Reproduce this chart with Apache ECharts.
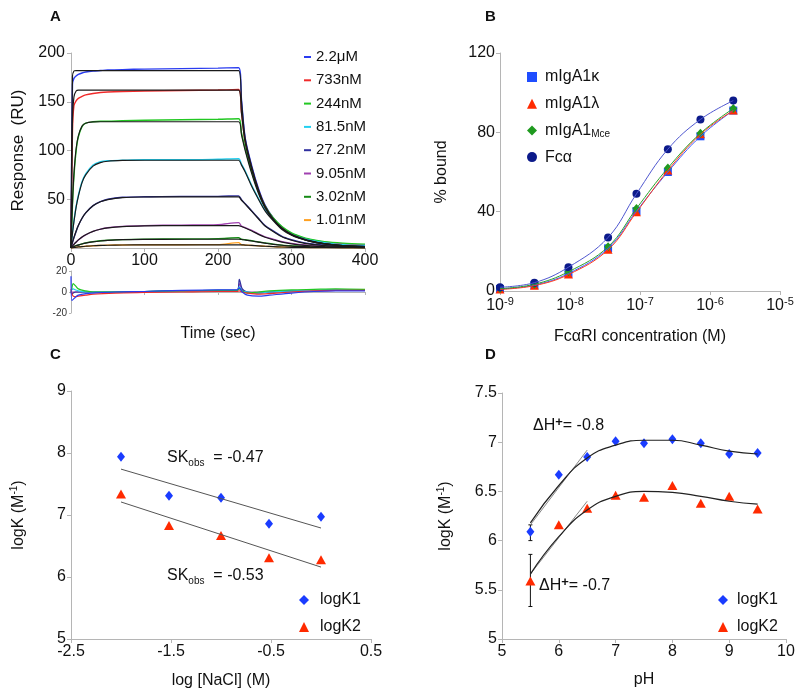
<!DOCTYPE html>
<html>
<head>
<meta charset="utf-8">
<script src="https://cdn.jsdelivr.net/npm/echarts@6/dist/echarts.min.js"></script>
<style>
  html, body { margin: 0; padding: 0; background: #fff; }
  #chart { width: 800px; height: 697px; }
</style>
</head>
<body>
<div id="chart"></div>
<script>
// ---- panel A: sensorgrams (time in s, response in RU) ----
const timeA = [0, 2, 4, 7, 10, 15, 20, 30, 40, 50, 70, 100, 150, 200, 228, 232, 237, 246, 255, 264, 275, 287, 300, 310, 325, 345, 370, 400]
const concNames = ['2.2μM', '733nM', '244nM', '81.5nM', '27.2nM', '9.05nM', '3.02nM', '1.01nM']
const concColors = ['#2a3cf0', '#f02a2a', '#22c822', '#22d0f0', '#3030a0', '#a040b0', '#168a16', '#ffa020']
const data2200 = [0, 168, 174, 176.5, 178, 179.5, 180.5, 181.5, 182, 182.5, 183, 183.5, 184, 184.5, 185, 152, 113, 84, 61, 44, 31, 21.5, 15, 12, 8.5, 6, 4, 3]
const data733 = [0, 120, 146, 151, 153.5, 155.5, 157, 158.5, 159.5, 160, 160.5, 161, 161.5, 162, 162.5, 139, 109, 81, 59, 43, 30.5, 21, 14.5, 11.5, 8, 5.5, 4, 3]
const data244 = [0, 44, 74, 100, 114, 124.5, 128, 129.5, 130, 130, 130.5, 131, 131.5, 132, 132.5, 118, 102, 78, 58, 43, 31, 22, 15.5, 12.5, 9, 6.5, 5, 4]
const data81 = [0, 16, 28, 43, 54, 68, 76, 85, 88.5, 89.5, 90, 90.5, 90.5, 91, 91.5, 86, 79, 64, 51, 39, 29, 20, 14, 11, 8, 5.5, 3.5, 2.5]
const data27 = [0, 5.5, 10.5, 17, 23, 30.5, 36, 43.5, 47.5, 50, 52, 52.5, 53, 53, 53.5, 49.5, 45.5, 38, 30.5, 23, 17.5, 12, 8.5, 6.5, 4.5, 3, 2, 1.5]
const data9 = [0, 2, 3.8, 6, 8.2, 11.2, 13.5, 17, 19.3, 20.8, 22.2, 23, 23.5, 24, 26, 22.5, 21, 18, 14.5, 11.5, 9, 6.5, 4.7, 3.7, 2.7, 2, 1.4, 1]
const data3 = [0, 0.8, 1.5, 2.4, 3.1, 4.2, 5.2, 6.5, 7.4, 8, 8.6, 9, 9.3, 9.6, 10.5, 9, 8.4, 7.4, 6.2, 5.2, 4, 3, 2.3, 1.9, 1.4, 1, 0.7, 0.5]
const data1 = [0, 0.2, 0.5, 0.8, 1.1, 1.5, 1.8, 2.3, 2.6, 2.9, 3.1, 3.3, 3.4, 3.5, 5.5, 3.3, 3, 2.6, 2.2, 1.8, 1.4, 1, 0.8, 0.6, 0.5, 0.4, 0.3, 0.3]
const fit2200 = [0, 176, 181.5, 182, 182, 182, 182, 182, 182, 182, 182, 182, 182, 182, 182, 150, 112, 83, 60, 43, 30, 20.5, 14, 11, 7.5, 4.5, 2.5, 1.5]
const fit733 = [0, 130, 155, 161, 162, 162, 162, 162, 162, 162, 162, 162, 162, 162, 162, 138, 108, 80, 58, 42, 29.5, 20, 13.5, 10.5, 7, 4.3, 2.4, 1.4]
const fit244 = [0, 46, 76, 102, 115, 125, 128, 129.3, 129.5, 129.5, 129.5, 129.5, 129.5, 129.5, 129.5, 116, 100, 76, 56, 41, 29, 20, 13.5, 10.5, 7, 4.3, 2.4, 1.4]
const fit81 = [0, 15, 27, 42, 53, 67, 75, 84, 87.5, 89, 89.8, 90, 90, 90, 90, 85, 78, 63, 50, 38, 28, 19, 13, 10, 6.8, 4.2, 2.3, 1.3]
const fit27 = [0, 5.7, 10.9, 17.5, 23.1, 30.5, 36, 43.3, 47.4, 49.6, 51.6, 52.3, 52.5, 52.5, 52.5, 49, 45, 37.5, 30, 22.5, 17, 11.5, 8, 6, 4, 2.5, 1.4, 0.8]
const fit9 = [0, 2, 3.8, 6.2, 8.3, 11.3, 13.6, 17, 19.2, 20.6, 22, 22.7, 23, 23, 23, 22, 20.5, 17.5, 14, 11, 8.5, 6, 4.2, 3.2, 2.2, 1.4, 0.8, 0.4]
const fit3 = [0, 0.7, 1.4, 2.3, 3, 4.1, 5, 6.3, 7.2, 7.8, 8.5, 8.8, 9, 9, 9, 8.7, 8.2, 7.2, 6, 5, 3.8, 2.8, 2, 1.6, 1.1, 0.7, 0.4, 0.2]
const fit1 = [0, 0.2, 0.5, 0.8, 1.1, 1.5, 1.8, 2.3, 2.6, 2.8, 3.1, 3.2, 3.3, 3.3, 3.3, 3.2, 3, 2.6, 2.2, 1.8, 1.4, 1, 0.7, 0.6, 0.4, 0.25, 0.15, 0.1]
const dataA = [data2200, data733, data244, data81, data27, data9, data3, data1]
const fitA = [fit2200, fit733, fit244, fit81, fit27, fit9, fit3, fit1]

// residuals
const timeRes = [0, 1, 3, 6, 10, 20, 30, 60, 100, 150, 200, 226, 229, 233, 240, 255, 270, 300, 330, 360, 400]
const res2200 = [15, -8, -7, -5, -3, -1.5, -1, 0, 0.5, 1.5, 2, 2, 4, 0, -3, -4, -3, -1, 0.5, 1, 1]
const res733 = [3, -1, -4, -4.5, -4, -3, -2, -1, -0.5, 0, 0.5, 0.5, 1, 0, -1, -2, -1.5, 0, 1, 1.5, 1.5]
const res244 = [0, 3, 8, 6, 3, 1, 0, 0, 0.5, 1, 1.5, 1.5, 3, 1, -1, 0, 1, 2, 2.5, 3, 2.5]
const res81 = [0, 2, 3, 2, 1, 0, 0, 0, 0.5, 1, 1.5, 1.5, 5, 1, 0, -1, 0, 1, 1.5, 2, 2]
const res27 = [0, -2, -1, 0, 0, 0, 0, 0, 0.5, 1, 1.5, 1.5, 12, 3, 0, -1, 0, 1, 1.5, 2, 2]
const res9 = [0, 0, 0, 0, 0, 0, 0, 0, 0.5, 1, 1, 1, 8, 2, 0, 0, 0, 1, 1, 1.5, 1.5]
const resA = [res9, res27, res81, res244, res733, res2200]
const resColors = ['#a040b0', '#3030a0', '#22d0f0', '#22c822', '#f02a2a', '#2a3cf0']

// ---- panel B: % bound vs FcaRI concentration ----
const concB = [1e-9, 3.1e-9, 9.5e-9, 3.5e-8, 8.9e-8, 2.5e-7, 7.3e-7, 2.15e-6]
const kappaB = [1, 3, 8.8, 21.5, 40.3, 60, 78, 91]
const lambdaB = [0.8, 2.7, 8.3, 20.8, 39.7, 60.7, 79, 91]
const mceB = [1.2, 3.4, 9.7, 22.3, 41.6, 62, 79.5, 92]
const fcaB = [1.9, 4.2, 12, 27, 49, 71.5, 86.5, 96]

// ---- panel C: salt dependence ----
const naclX = [-2, -1.52, -1, -0.52, 0]
const cLogK1 = [7.94, 7.31, 7.28, 6.86, 6.97]
const cLogK2 = [7.34, 6.83, 6.67, 6.31, 6.28]
const cFitX = [-2, 0]
const cFit1 = [7.74, 6.79]
const cFit2 = [7.21, 6.16]

// ---- panel D: pH dependence ----
const pH = [5.5, 6, 6.5, 7, 7.5, 8, 8.5, 9, 9.5]
const dLogK1 = [6.09, 6.67, 6.85, 7.01, 6.99, 7.03, 6.99, 6.88, 6.89]
const dLogK2 = [5.59, 6.16, 6.33, 6.46, 6.44, 6.56, 6.38, 6.45, 6.32]
const dFit1 = [6.18, 6.56, 6.84, 6.97, 7.02, 7.02, 6.97, 6.91, 6.88]
const dFit2 = [5.66, 6.04, 6.31, 6.45, 6.5, 6.49, 6.45, 6.4, 6.37]
const tanX = [5.5, 6.5]
const tan1 = [6.16, 6.92]
const tan2 = [5.66, 6.4]
const errX = [5.5, 5.5]
const errLow = [6.0, 5.33]
const errHigh = [6.16, 5.86]

const FONT = 'Liberation Sans, Arial, sans-serif'
const AXIS_COLOR = '#b5b5b5'
const TEXT_COLOR = '#111'

const zip = (xs, ys) => xs.map((x, i) => [x, ys[i]])

const baseAxis = (extra) => Object.assign({
  type: 'value',
  axisLine: { onZero: false, lineStyle: { color: AXIS_COLOR } },
  axisTick: { length: 4, lineStyle: { color: AXIS_COLOR } },
  splitLine: { show: false },
  axisLabel: { color: TEXT_COLOR, fontSize: 16, margin: 5 },
  nameTextStyle: { color: TEXT_COLOR, fontSize: 16, lineHeight: 20,
    rich: { sup: { fontSize: 10, lineHeight: 10, verticalAlign: 'top' } } }
}, extra)

const series = []

// A: data curves, then black fits on top
dataA.forEach((arr, i) => {
  series.push({
    name: concNames[i], type: 'line', xAxisIndex: 0, yAxisIndex: 0,
    data: zip(timeA, arr), showSymbol: false, smooth: 0.3,
    lineStyle: { color: concColors[i], width: 1.4 }, itemStyle: { color: concColors[i] }
  })
})
fitA.forEach((arr, i) => {
  series.push({
    name: 'fit ' + concNames[i], type: 'line', xAxisIndex: 0, yAxisIndex: 0,
    data: zip(timeA, arr), showSymbol: false, smooth: 0.3,
    lineStyle: { color: '#1a1a1a', width: 1.2 }
  })
})
resA.forEach((arr, i) => {
  series.push({
    name: 'res' + i, type: 'line', xAxisIndex: 1, yAxisIndex: 1,
    data: zip(timeRes, arr), showSymbol: false, smooth: 0.3,
    lineStyle: { color: resColors[i], width: 1.2 }
  })
})

// B: fitted curves and points
const bSets = [
  { name: 'mIgA1κ', vals: kappaB, color: '#1f4dff', line: '#3b5bff', symbol: 'rect', size: 8 },
  { name: 'mIgA1λ', vals: lambdaB, color: '#ff2a00', line: '#ff3a1a', symbol: 'triangle', size: [9, 8] },
  { name: 'mIgA1Mce', vals: mceB, color: '#1f9a1f', line: '#2aa02a', symbol: 'diamond', size: [8, 9] },
  { name: 'Fcα', vals: fcaB, color: '#0c1a8a', line: '#5058d0', symbol: 'circle', size: 8 }
]
bSets.forEach(s => {
  series.push({
    name: 'curve ' + s.name, type: 'line', xAxisIndex: 2, yAxisIndex: 2,
    data: zip(concB, s.vals), showSymbol: false, smooth: 0.4,
    lineStyle: { color: s.line, width: 1 }
  })
})
bSets.forEach(s => {
  series.push({
    name: s.name, type: 'scatter', xAxisIndex: 2, yAxisIndex: 2,
    data: zip(concB, s.vals), symbol: s.symbol, symbolSize: s.size,
    itemStyle: { color: s.color, opacity: 1 }
  })
})

// C
series.push(
  { name: 'fitC1', type: 'line', xAxisIndex: 3, yAxisIndex: 3, data: zip(cFitX, cFit1),
    showSymbol: false, lineStyle: { color: '#555', width: 1 } },
  { name: 'fitC2', type: 'line', xAxisIndex: 3, yAxisIndex: 3, data: zip(cFitX, cFit2),
    showSymbol: false, lineStyle: { color: '#555', width: 1 } },
  { name: 'logK1', type: 'scatter', xAxisIndex: 3, yAxisIndex: 3, data: zip(naclX, cLogK1),
    symbol: 'diamond', symbolSize: [8, 10], itemStyle: { color: '#1a3cff', opacity: 1 } },
  { name: 'logK2', type: 'scatter', xAxisIndex: 3, yAxisIndex: 3, data: zip(naclX, cLogK2),
    symbol: 'triangle', symbolSize: [10, 9], itemStyle: { color: '#ff2a00', opacity: 1 } }
)

// D
series.push(
  { name: 'tanD1', type: 'line', xAxisIndex: 4, yAxisIndex: 4, data: zip(tanX, tan1),
    showSymbol: false, lineStyle: { color: '#888', width: 1 } },
  { name: 'tanD2', type: 'line', xAxisIndex: 4, yAxisIndex: 4, data: zip(tanX, tan2),
    showSymbol: false, lineStyle: { color: '#888', width: 1 } },
  { name: 'fitD1', type: 'line', xAxisIndex: 4, yAxisIndex: 4, data: zip(pH, dFit1),
    showSymbol: false, smooth: 0.5, lineStyle: { color: '#222', width: 1.2 } },
  { name: 'fitD2', type: 'line', xAxisIndex: 4, yAxisIndex: 4, data: zip(pH, dFit2),
    showSymbol: false, smooth: 0.5, lineStyle: { color: '#222', width: 1.2 } },
  { name: 'errD', type: 'custom', xAxisIndex: 4, yAxisIndex: 4,
    data: errX.map((x, i) => [x, errLow[i], errHigh[i]]),
    renderItem: (params, api) => {
      const lo = api.coord([api.value(0), api.value(1)])
      const hi = api.coord([api.value(0), api.value(2)])
      const st = { stroke: '#111', lineWidth: 1 }
      return { type: 'group', children: [
        { type: 'line', shape: { x1: lo[0], y1: lo[1], x2: hi[0], y2: hi[1] }, style: st },
        { type: 'line', shape: { x1: lo[0] - 2, y1: lo[1], x2: lo[0] + 2, y2: lo[1] }, style: st },
        { type: 'line', shape: { x1: hi[0] - 2, y1: hi[1], x2: hi[0] + 2, y2: hi[1] }, style: st }
      ] }
    } },
  { name: 'logK1', type: 'scatter', xAxisIndex: 4, yAxisIndex: 4, data: zip(pH, dLogK1),
    symbol: 'diamond', symbolSize: [8, 10], itemStyle: { color: '#1a3cff', opacity: 1 } },
  { name: 'logK2', type: 'scatter', xAxisIndex: 4, yAxisIndex: 4, data: zip(pH, dLogK2),
    symbol: 'triangle', symbolSize: [10, 9], itemStyle: { color: '#ff2a00', opacity: 1 } }
)

const supText = (x, y, text) => ({
  type: 'text', left: x, top: y,
  style: { text: text, fontFamily: FONT, fontSize: 16, fill: TEXT_COLOR, lineHeight: 20,
    rich: {
      sub: { fontSize: 10, lineHeight: 10, verticalAlign: 'bottom' },
      sup: { fontSize: 13, fontWeight: 'bold', lineHeight: 12, verticalAlign: 'top' }
    } }
})
const panelLabel = (x, y, t) => ({
  type: 'text', left: x, top: y,
  style: { text: t, fontFamily: FONT, fontSize: 15, fontWeight: 'bold', fill: TEXT_COLOR }
})

const option = {
  animation: false,
  backgroundColor: '#fff',
  textStyle: { fontFamily: FONT },
  grid: [
    { left: 71, top: 53, width: 294, height: 195 },
    { left: 71, top: 271, width: 294, height: 42 },
    { left: 500, top: 53, width: 280, height: 238 },
    { left: 71, top: 391, width: 300, height: 248 },
    { left: 502, top: 393, width: 284, height: 246 }
  ],
  xAxis: [
    baseAxis({ gridIndex: 0, min: 0, max: 400, interval: 100,
      name: 'Time (sec)', nameLocation: 'middle', nameGap: 76 }),
    baseAxis({ gridIndex: 1, min: 0, max: 400, interval: 100,
      axisLine: { onZero: true, lineStyle: { color: AXIS_COLOR } },
      axisTick: { length: 3, lineStyle: { color: AXIS_COLOR } },
      axisLabel: { show: false } }),
    baseAxis({ gridIndex: 2, type: 'log', logBase: 10, min: 1e-9, max: 1e-5,
      minorTick: { show: false },
      axisLabel: { color: TEXT_COLOR, fontSize: 16, margin: 5, lineHeight: 20,
        formatter: v => '10{sup|' + Math.round(Math.log10(v)) + '}',
        rich: { sup: { fontSize: 11, lineHeight: 11, verticalAlign: 'top' } } },
      name: 'FcαRI concentration (M)', nameLocation: 'middle', nameGap: 36 }),
    baseAxis({ gridIndex: 3, min: -2.5, max: 0.5, interval: 1,
      name: 'log [NaCl] (M)', nameLocation: 'middle', nameGap: 32 }),
    baseAxis({ gridIndex: 4, min: 5, max: 10, interval: 1,
      name: 'pH', nameLocation: 'middle', nameGap: 31 })
  ],
  yAxis: [
    baseAxis({ gridIndex: 0, min: 0, max: 200, interval: 50,
      axisLabel: { color: TEXT_COLOR, fontSize: 16, margin: 6, showMinLabel: false },
      name: 'Response  (RU)', nameLocation: 'middle', nameGap: 44,
      nameTextStyle: { color: TEXT_COLOR, fontSize: 17 } }),
    baseAxis({ gridIndex: 1, min: -20, max: 20, interval: 20,
      axisTick: { length: 2, lineStyle: { color: AXIS_COLOR } },
      axisLabel: { color: '#333', fontSize: 10, margin: 4 } }),
    baseAxis({ gridIndex: 2, min: 0, max: 120, interval: 40,
      name: '% bound', nameLocation: 'middle', nameGap: 48 }),
    baseAxis({ gridIndex: 3, min: 5, max: 9, interval: 1,
      name: 'logK (M{sup|-1})', nameLocation: 'middle', nameGap: 42 }),
    baseAxis({ gridIndex: 4, min: 5, max: 7.5, interval: 0.5,
      name: 'logK (M{sup|-1})', nameLocation: 'middle', nameGap: 46 })
  ],
  legend: [
    { orient: 'vertical', left: 299, top: 44, data: concNames, icon: 'rect',
      itemWidth: 7, itemHeight: 2, itemGap: 7.3,
      textStyle: { fontSize: 15, color: TEXT_COLOR, lineHeight: 16 } },
    { orient: 'vertical', left: 522, top: 63, data: bSets.map(s => s.name),
      itemWidth: 10, itemHeight: 10, itemGap: 8.7,
      formatter: n => n === 'mIgA1Mce' ? 'mIgA1{sub|Mce}' : n,
      textStyle: { fontSize: 16, color: TEXT_COLOR, lineHeight: 18, padding: [0, 0, 0, 3],
        rich: { sub: { fontSize: 10, lineHeight: 10, verticalAlign: 'bottom' } } } },
    { orient: 'vertical', left: 294, top: 586, data: ['logK1', 'logK2'],
      itemWidth: 10, itemHeight: 10, itemGap: 9,
      textStyle: { fontSize: 16, color: TEXT_COLOR, lineHeight: 18, padding: [0, 0, 0, 6] } },
    { orient: 'vertical', left: 713, top: 586, data: ['logK1', 'logK2'],
      itemWidth: 10, itemHeight: 10, itemGap: 9,
      textStyle: { fontSize: 16, color: TEXT_COLOR, lineHeight: 18, padding: [0, 0, 0, 4] } }
  ],
  graphic: [
    panelLabel(50, 9, 'A'),
    panelLabel(485, 9, 'B'),
    panelLabel(50, 347, 'C'),
    panelLabel(485, 347, 'D'),
    supText(167, 448, 'SK{sub|obs}  = -0.47'),
    supText(167, 566, 'SK{sub|obs}  = -0.53'),
    supText(533, 416, 'ΔH{sup|+}= -0.8'),
    supText(539, 576, 'ΔH{sup|+}= -0.7')
  ],
  series: series
}

const chart = echarts.init(document.getElementById('chart'))
chart.setOption(option)
</script>
</body>
</html>
